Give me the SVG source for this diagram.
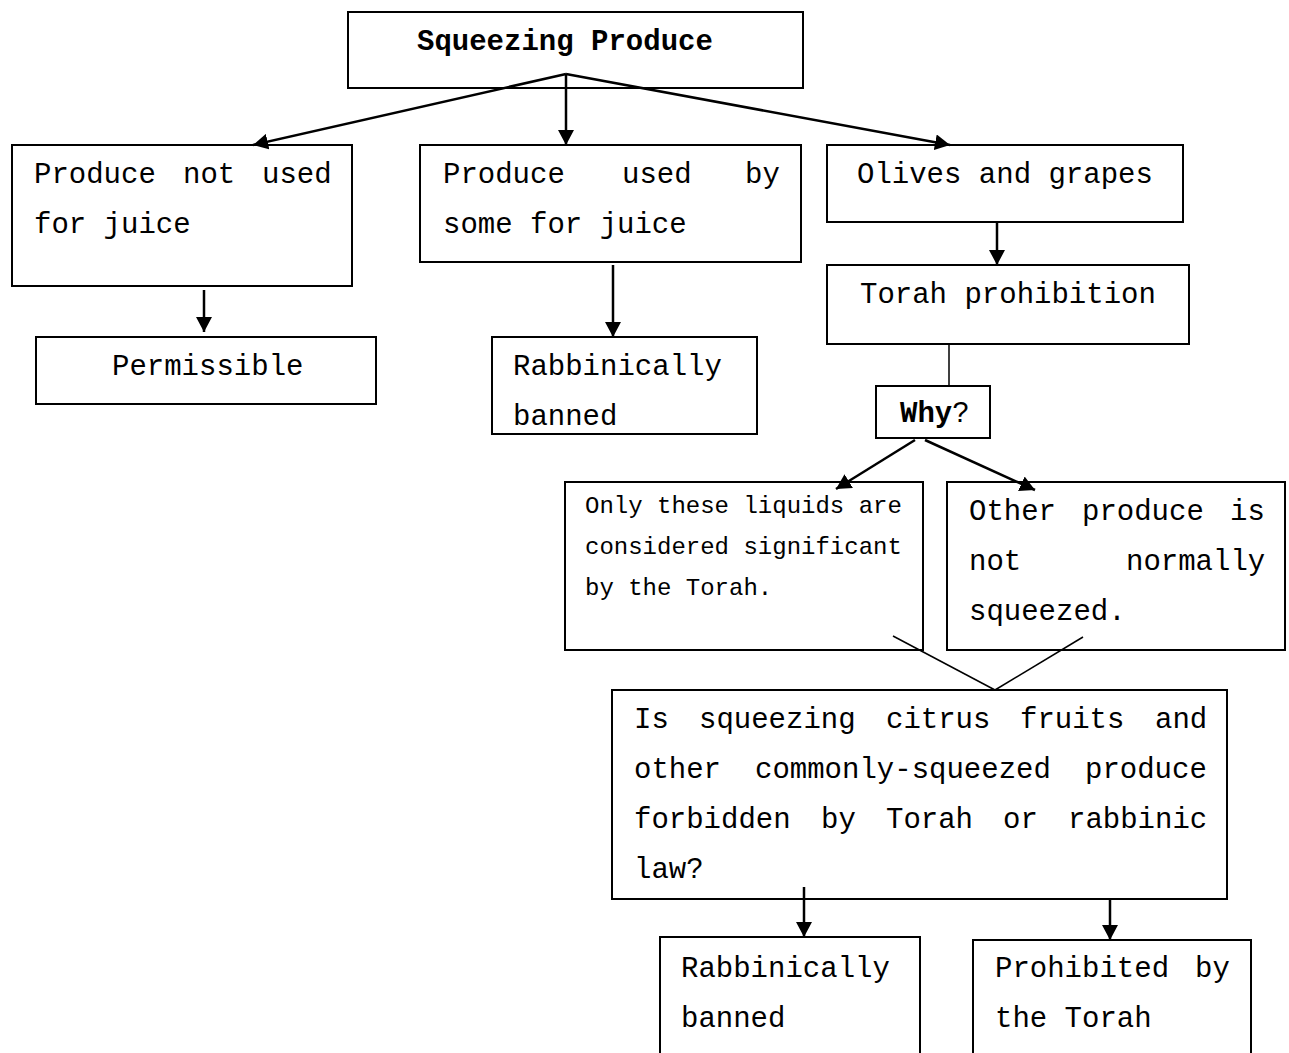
<svg xmlns="http://www.w3.org/2000/svg" width="1289" height="1053" viewBox="0 0 1289 1053">
<style>
.box{fill:#fff;stroke:#000;stroke-width:2}
.t{font-family:"Liberation Mono","Courier New",monospace;font-size:29px;fill:#000}
.s{font-family:"Liberation Mono","Courier New",monospace;font-size:24px;fill:#000}
.b{font-weight:bold}
.c{stroke:#000;stroke-width:2.5;fill:none}
.l{stroke:#000;stroke-width:1.5;fill:none}
</style>
<defs>
<marker id="ah" markerUnits="userSpaceOnUse" markerWidth="16" markerHeight="16" refX="15" refY="8" orient="auto">
<path d="M0,0 L15,8 L0,16 z" fill="#000"/>
</marker>
</defs>
<rect width="1289" height="1053" fill="#fff"/>
<g id="n-title"><rect class="box" x="348" y="12" width="455" height="76"/><text class="t b" x="417" y="50">Squeezing Produce</text></g>
<g id="n-notused"><rect class="box" x="12" y="145" width="340" height="141"/><text class="t" y="183"><tspan x="34">Produce</tspan><tspan x="183">not</tspan><tspan x="262">used</tspan></text><text class="t" x="34" y="233">for juice</text></g>
<g id="n-perm"><rect class="box" x="36" y="337" width="340" height="67"/><text class="t" x="112" y="375">Permissible</text></g>
<g id="n-some"><rect class="box" x="420" y="145" width="381" height="117"/><text class="t" y="183"><tspan x="443">Produce</tspan><tspan x="622">used</tspan><tspan x="745">by</tspan></text><text class="t" x="443" y="233">some for juice</text></g>
<g id="n-rab1"><rect class="box" x="492" y="337" width="265" height="97"/><text class="t" x="513" y="375">Rabbinically</text><text class="t" x="513" y="425">banned</text></g>
<g id="n-olives"><rect class="box" x="827" y="145" width="356" height="77"/><text class="t" x="857" y="183">Olives and grapes</text></g>
<g id="n-torah"><rect class="box" x="827" y="265" width="362" height="79"/><text class="t" x="860" y="303">Torah prohibition</text></g>
<g id="n-why"><rect class="box" x="876" y="386" width="114" height="52"/><text class="t" x="900" y="422"><tspan class="b">Why</tspan>?</text></g>
<g id="n-only"><rect class="box" x="565" y="482" width="358" height="168"/><text class="s" x="585" y="513">Only these liquids are</text><text class="s" x="585" y="554">considered significant</text><text class="s" x="585" y="595">by the Torah.</text></g>
<g id="n-other"><rect class="box" x="947" y="482" width="338" height="168"/><text class="t" y="520"><tspan x="969">Other</tspan><tspan x="1082">produce</tspan><tspan x="1230">is</tspan></text><text class="t" y="570"><tspan x="969">not</tspan><tspan x="1126">normally</tspan></text><text class="t" x="969" y="620">squeezed.</text></g>
<g id="n-is"><rect class="box" x="612" y="690" width="615" height="209"/><text class="t" y="728"><tspan x="634">Is</tspan><tspan x="699">squeezing</tspan><tspan x="886">citrus</tspan><tspan x="1020">fruits</tspan><tspan x="1155">and</tspan></text><text class="t" y="778"><tspan x="634">other</tspan><tspan x="755">commonly-squeezed</tspan><tspan x="1085">produce</tspan></text><text class="t" y="828"><tspan x="634">forbidden</tspan><tspan x="821">by</tspan><tspan x="886">Torah</tspan><tspan x="1003">or</tspan><tspan x="1068">rabbinic</tspan></text><text class="t" x="634" y="878">law?</text></g>
<g id="n-rab2"><rect class="box" x="660" y="937" width="260" height="130"/><text class="t" x="681" y="977">Rabbinically</text><text class="t" x="681" y="1027">banned</text></g>
<g id="n-proh"><rect class="box" x="973" y="940" width="278" height="130"/><text class="t" y="977"><tspan x="995">Prohibited</tspan><tspan x="1195">by</tspan></text><text class="t" x="995" y="1027">the Torah</text></g>
<g id="connectors">
<line class="c" x1="566" y1="74" x2="253" y2="145" marker-end="url(#ah)"/>
<line class="c" x1="566" y1="74" x2="566" y2="145" marker-end="url(#ah)"/>
<line class="c" x1="566" y1="74" x2="950" y2="145" marker-end="url(#ah)"/>
<line class="c" x1="204" y1="290" x2="204" y2="332" marker-end="url(#ah)"/>
<line class="c" x1="613" y1="265" x2="613" y2="337" marker-end="url(#ah)"/>
<line class="c" x1="997" y1="222" x2="997" y2="265" marker-end="url(#ah)"/>
<line class="l" x1="949" y1="344" x2="949" y2="386"/>
<line class="c" x1="915" y1="440" x2="836" y2="489" marker-end="url(#ah)"/>
<line class="c" x1="925" y1="440" x2="1035" y2="490" marker-end="url(#ah)"/>
<line class="l" x1="893" y1="636" x2="995" y2="690"/>
<line class="l" x1="1083" y1="637" x2="995" y2="690"/>
<line class="c" x1="804" y1="887" x2="804" y2="937" marker-end="url(#ah)"/>
<line class="c" x1="1110" y1="899" x2="1110" y2="940" marker-end="url(#ah)"/>
</g>
</svg>
